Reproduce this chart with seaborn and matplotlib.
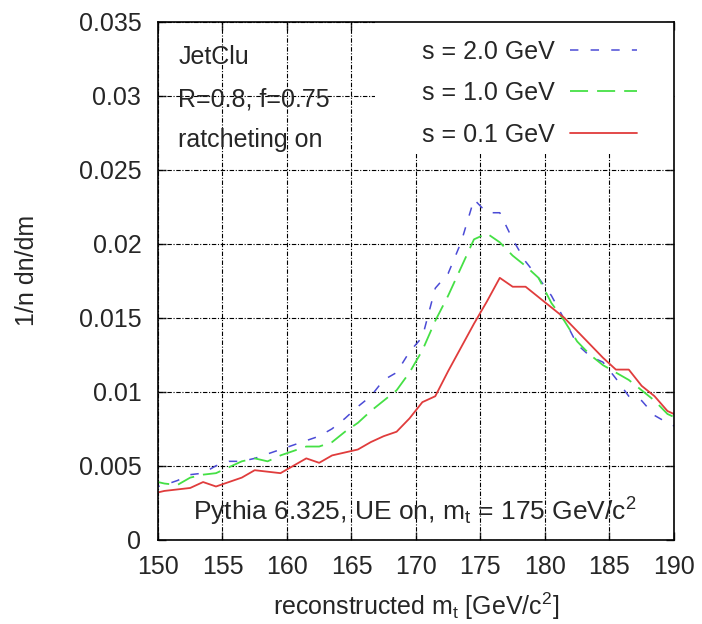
import numpy as np
import pandas as pd
import matplotlib
matplotlib.use("Agg")
import matplotlib.pyplot as plt
from matplotlib.patches import Rectangle
import seaborn as sns

# ---- data (bin centres in GeV, 1/n dn/dm) ----
mass = [149.5, 150.5, 151.5, 152.5, 153.5, 154.5, 155.5, 156.5, 157.5, 158.5,
        159.5, 160.5, 161.5, 162.5, 163.5, 164.5, 165.5, 166.5, 167.5, 168.5,
        169.5, 170.5, 171.5, 172.5, 173.5, 174.5, 175.5, 176.5, 177.5, 178.5,
        179.5, 180.5, 181.5, 182.5, 183.5, 184.5, 185.5, 186.5, 187.5, 188.5,
        189.5, 190.5]

s_2_0 = [0.0035, 0.0037, 0.0040, 0.0044, 0.0045, 0.0050, 0.0053, 0.0053, 0.0055, 0.0058,
         0.0061, 0.0064, 0.0067, 0.0070, 0.0075, 0.0082, 0.0090, 0.0097, 0.0108, 0.0113,
         0.0127, 0.0137, 0.0170, 0.0180, 0.0201, 0.0230, 0.0221, 0.0221, 0.0203, 0.0188,
         0.0177, 0.0165, 0.0149, 0.0132, 0.0124, 0.0120, 0.0109, 0.0097, 0.0094, 0.0084,
         0.0079, 0.0075]

s_1_0 = [0.0040, 0.0038, 0.0037, 0.0042, 0.0044, 0.0045, 0.0049, 0.0053, 0.0055, 0.0053,
         0.0057, 0.0060, 0.0063, 0.0063, 0.0066, 0.0073, 0.0079, 0.0087, 0.0094, 0.0101,
         0.0113, 0.0128, 0.0148, 0.0165, 0.0184, 0.0203, 0.0207, 0.0201, 0.0192, 0.0185,
         0.0177, 0.0160, 0.0148, 0.0134, 0.0125, 0.0118, 0.0113, 0.0108, 0.0101, 0.0094,
         0.0085, 0.0081]

s_0_1 = [0.0031, 0.0033, 0.0034, 0.0035, 0.0039, 0.0036, 0.0039, 0.0042, 0.0047, 0.0046,
         0.0045, 0.0050, 0.0055, 0.0052, 0.0057, 0.0059, 0.0061, 0.0066, 0.0070, 0.0073,
         0.0082, 0.0093, 0.0097, 0.0114, 0.0130, 0.0146, 0.0161, 0.0177, 0.0171, 0.0171,
         0.0164, 0.0157, 0.0150, 0.0141, 0.0132, 0.0123, 0.0115, 0.0115, 0.0104, 0.0097,
         0.0087, 0.0083]

labels = ["s = 2.0 GeV", "s = 1.0 GeV", "s = 0.1 GeV"]
x_ticks = [150, 155, 160, 165, 170, 175, 180, 185, 190]
y_ticks = [0, 0.005, 0.01, 0.015, 0.02, 0.025, 0.03, 0.035]
y_tick_labels = ["0", "0.005", "0.01", "0.015", "0.02", "0.025", "0.03", "0.035"]

# ---- style ----
sns.set_style("ticks")
plt.rcParams["font.family"] = ["Liberation Sans", "DejaVu Sans"]
plt.rcParams["mathtext.fontset"] = "custom"
plt.rcParams["mathtext.rm"] = "Liberation Sans"
plt.rcParams["mathtext.it"] = "Liberation Sans:italic"
FS = 18

fig = plt.figure(figsize=(7.02, 6.24), dpi=100)
ax = fig.add_axes([0.225, 0.135, 0.735, 0.830])

df = pd.DataFrame({"mass": mass, labels[0]: s_2_0, labels[1]: s_1_0, labels[2]: s_0_1})

styles = {
    labels[0]: dict(color="#4b4bd6", lw=1.1, ls=(0, (5.5, 8))),
    labels[1]: dict(color="#45e045", lw=1.3, ls=(0, (10, 5))),
    labels[2]: dict(color="#e03c3c", lw=1.3, ls="-"),
}
for lab in labels:
    st = styles[lab]
    sns.lineplot(data=df, x="mass", y=lab, ax=ax, color=st["color"],
                 linewidth=st["lw"], linestyle=st["ls"], label=lab, zorder=3)

ax.set_xlim(150, 190)
ax.set_ylim(0, 0.035)
ax.set_xticks(x_ticks)
ax.set_yticks(y_ticks)
ax.set_yticklabels(y_tick_labels)
ax.tick_params(direction="in", length=6, width=1, top=True, right=True, labelsize=FS)
ax.tick_params(axis="y", pad=12)
ax.tick_params(axis="x", pad=11)
for sp in ax.spines.values():
    sp.set_linewidth(1.2)
    sp.set_color("black")
    sp.set_zorder(5)

# gnuplot style dash-dot grid, under the key box
grid_ls = (0, (4, 1.5, 1, 1.5))
for xv in x_ticks:
    ax.axvline(xv, color="black", linewidth=0.8, linestyle=grid_ls, zorder=1)
for yv in y_ticks:
    ax.axhline(yv, color="black", linewidth=0.8, linestyle=grid_ls, zorder=1)
ax.add_patch(Rectangle((0.42, 0.745), 0.58, 0.255, transform=ax.transAxes,
                       facecolor="white", edgecolor="none", zorder=1.5))

ax.set_xlabel(r"reconstructed m$_\mathrm{t}$ [GeV/c$^2$]", fontsize=FS, labelpad=8)
ax.set_ylabel("1/n dn/dm", fontsize=FS)
ax.yaxis.set_label_coords(-0.23, 0.52)

leg = ax.legend(loc="upper right", bbox_to_anchor=(0.953, 0.99), markerfirst=False,
                fontsize=FS, frameon=False, handlelength=2.7, handletextpad=0.6,
                labelspacing=0.7, borderpad=0.5, borderaxespad=0)
leg.set_zorder(4)

ax.text(0.039, 0.932, "JetClu", transform=ax.transAxes, fontsize=FS, va="center", zorder=5)
ax.text(0.039, 0.851, "R=0.8, f=0.75", transform=ax.transAxes, fontsize=FS, va="center", zorder=5)
ax.text(0.039, 0.772, "ratcheting on", transform=ax.transAxes, fontsize=FS, va="center", zorder=5)
ax.text(0.498, 0.054, r"Pythia 6.325, UE on, m$_\mathrm{t}$ = 175 GeV/c$^2$",
        transform=ax.transAxes, fontsize=FS + 1, ha="center", va="center", zorder=5)

fig.savefig("out.png", dpi=100)
